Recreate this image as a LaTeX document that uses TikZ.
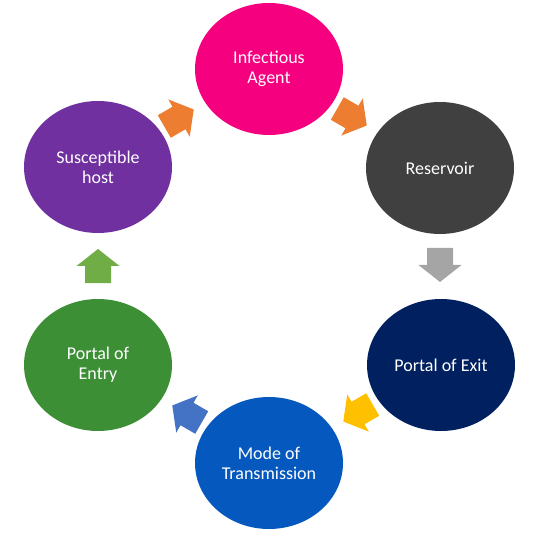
\documentclass[tikz,border=0pt]{standalone}
\usepackage{fontspec}
\setmainfont{Carlito}
\definecolor{cpink}{HTML}{F5007E}
\definecolor{cdark}{HTML}{404040}
\definecolor{cnavy}{HTML}{002060}
\definecolor{cblue}{HTML}{0559BE}
\definecolor{cgreen}{HTML}{3C8F35}
\definecolor{cpurple}{HTML}{7030A0}
\definecolor{aorange}{HTML}{ED7D31}
\definecolor{agray}{HTML}{A5A5A5}
\definecolor{ayellow}{HTML}{FFC000}
\definecolor{ablue}{HTML}{4472C4}
\definecolor{agreen}{HTML}{70AD47}
\tikzset{
  stage/.style={ellipse, minimum width=148pt, minimum height=132pt, inner sep=0pt,
    text=white, align=center, font=\fontsize{18}{20}\selectfont},
}
\usetikzlibrary{shapes.geometric}
\newcommand{\blockarr}[4]{%
  \coordinate (#1) at (#2);
  \fill[#4, shift={(#1)}, rotate=#3] (-17,-13) -- (0,-13) -- (0,-21.5) -- (17,0) -- (0,21.5) -- (0,13) -- (-17,13) -- cycle;
}
\begin{document}
\begin{tikzpicture}[x=1pt,y=-1pt]
\useasboundingbox (0,0) rectangle (549,540);
\node[stage, fill=cpink] (ia) at (269,69) {Infectious\\Agent};
\node[stage, fill=cdark] (res) at (440,168) {Reservoir};
\node[stage, fill=cnavy] (pex) at (441,365) {Portal of Exit};
\node[stage, fill=cblue] (mot) at (269,463) {Mode of\\Transmission};
\node[stage, fill=cgreen] (pen) at (98,365) {Portal of\\Entry};
\node[stage, fill=cpurple] (sh) at (98,167) {Susceptible\\host};
\blockarr{a1}{352,117}{-30}{aorange}
\blockarr{a2}{440,265}{-90}{agray}
\blockarr{a3}{358,413}{210}{ayellow}
\blockarr{a4}{187,414}{150}{ablue}
\blockarr{a5}{98,266}{90}{agreen}
\blockarr{a6}{179,118}{30}{aorange}
\end{tikzpicture}
\end{document}
